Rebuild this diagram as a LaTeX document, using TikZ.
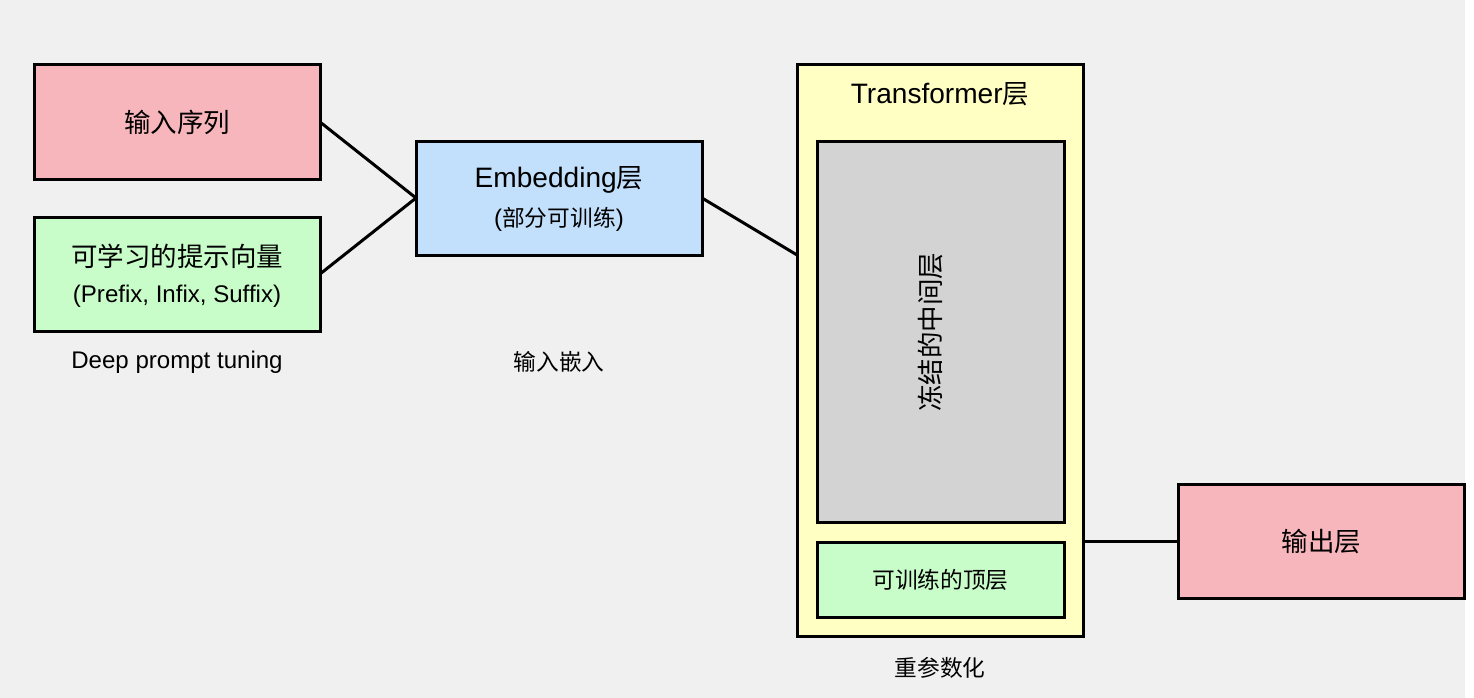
\documentclass[tikz,border=0pt]{standalone}
\usepackage{fontspec}
\setmainfont[Scale=1.06]{Liberation Sans}
\newfontfamily\cjk{Noto Sans CJK SC}
\definecolor{bgc}{RGB}{240,240,240}
\definecolor{pinkc}{RGB}{247,182,187}
\definecolor{greenc}{RGB}{200,252,200}
\definecolor{bluec}{RGB}{194,224,251}
\definecolor{yellowc}{RGB}{255,255,196}
\definecolor{grayc}{RGB}{211,211,211}
\tikzset{
  boxc/.style={draw=black, line width=3pt, inner sep=0pt, outer sep=0pt},
  big/.style={font=\fontsize{26.5}{31}\selectfont},
  small/.style={font=\fontsize{22.7}{27}\selectfont},
  conn/.style={line width=3pt, black},
}
\begin{document}
\begin{tikzpicture}[x=1pt,y=-1pt]
\useasboundingbox (0,0) rectangle (1474,698);
\fill[bgc] (0,0) rectangle (1465,698);
\fill[white] (1465,0) rectangle (1474,698);
% boxes
\node[boxc, fill=pinkc, minimum width=286pt, minimum height=114pt] (inp) at (177,122) {};
\node[big] at (inp.center) {\cjk 输入序列};
\node[boxc, fill=greenc, minimum width=286pt, minimum height=114pt] (prm) at (177,274) {};
\node[big] (prmt) at (177,256) {\cjk 可学习的提示向量};
\node[small] (prms) at (177,296) {(Prefix, Infix, Suffix)};
\node[boxc, fill=bluec, minimum width=286pt, minimum height=114pt] (emb) at (559,198) {};
\node[big] (embt) at (559,180) {Embedding{\cjk 层}};
\node[small] (embs) at (559,219) {({\cjk 部分可训练})};
\node[boxc, fill=yellowc, minimum width=286pt, minimum height=571pt] (trf) at (940,350.5) {};
\node[big] (trft) at (940,94) {Transformer{\cjk 层}};
\node[boxc, fill=grayc, minimum width=247pt, minimum height=381pt] (frz) at (940.5,331.5) {};
\node[big, rotate=90] (frzt) at (930,332) {\cjk 冻结的中间层};
\node[boxc, fill=greenc, minimum width=247pt, minimum height=75pt] (top) at (940.5,579.5) {};
\node[small] (topt) at (top.center) {\cjk 可训练的顶层};
\node[boxc, fill=pinkc, minimum width=286pt, minimum height=114pt] (out) at (1321.5,541.5) {};
\node[big] (outt) at (out.center) {\cjk 输出层};
% labels
\node[small] (l1) at (177,362) {Deep prompt tuning};
\node[small] (l2) at (559,362) {\cjk 输入嵌入};
\node[small] (l3) at (940,668) {\cjk 重参数化};
% connectors
\coordinate (trin) at (797,255);
\coordinate (trout) at (1083,541.5);
\draw[conn] (inp.east) -- (emb.west);
\draw[conn] (prm.east) -- (emb.west);
\draw[conn] (emb.east) -- (trin);
\draw[conn] (trout) -- (out.west);
\end{tikzpicture}
\end{document}
